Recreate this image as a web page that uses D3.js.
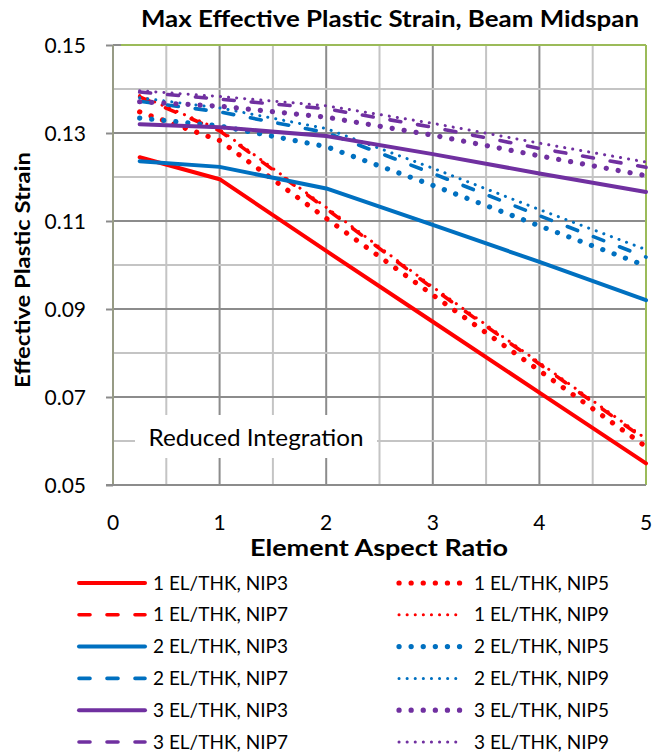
<!DOCTYPE html>
<html><head><meta charset="utf-8">
<script src="https://cdn.jsdelivr.net/npm/d3@7"></script>
<style>
html,body{margin:0;padding:0;background:#fff;}
svg text{font-family:Lato,"Open Sans",sans-serif;fill:#000;}
</style></head>
<body>
<svg id="chart" width="652" height="753"></svg>
<script>
// ---- data ----
const aspectRatios = [0.25, 1, 2, 3, 4, 5];
const el1_nip3 = [0.1245, 0.1195, 0.1032, 0.0871, 0.0710, 0.0549];
const el1_nip5 = [0.1348, 0.1283, 0.1106, 0.0932, 0.0760, 0.0587];
const el1_nip7 = [0.1382, 0.1305, 0.1128, 0.0947, 0.0775, 0.0602];
const el1_nip9 = [0.1385, 0.1308, 0.1131, 0.0950, 0.0778, 0.0605];
const el2_nip3 = [0.1236, 0.1223, 0.1174, 0.1091, 0.1007, 0.0920];
const el2_nip5 = [0.1334, 0.1316, 0.1269, 0.1181, 0.1089, 0.0998];
const el2_nip7 = [0.1372, 0.1348, 0.1301, 0.1208, 0.1112, 0.1018];
const el2_nip9 = [0.1380, 0.1357, 0.1310, 0.1220, 0.1126, 0.1035];
const el3_nip3 = [0.1320, 0.1313, 0.1293, 0.1252, 0.1208, 0.1166];
const el3_nip5 = [0.1371, 0.1361, 0.1336, 0.1295, 0.1248, 0.1203];
const el3_nip7 = [0.1393, 0.1377, 0.1355, 0.1313, 0.1265, 0.1222];
const el3_nip9 = [0.1396, 0.1383, 0.1362, 0.1322, 0.1277, 0.1234];
const seriesNames = ["1 EL/THK, NIP3","1 EL/THK, NIP5","1 EL/THK, NIP7","1 EL/THK, NIP9",
                     "2 EL/THK, NIP3","2 EL/THK, NIP5","2 EL/THK, NIP7","2 EL/THK, NIP9",
                     "3 EL/THK, NIP3","3 EL/THK, NIP5","3 EL/THK, NIP7","3 EL/THK, NIP9"];
const seriesValues = [el1_nip3, el1_nip5, el1_nip7, el1_nip9,
                      el2_nip3, el2_nip5, el2_nip7, el2_nip9,
                      el3_nip3, el3_nip5, el3_nip7, el3_nip9];
const xTicks = [0, 1, 2, 3, 4, 5];
const yTicks = [0.05, 0.07, 0.09, 0.11, 0.13, 0.15];
const titleText = "Max Effective Plastic Strain, Beam Midspan";
const xTitle = "Element Aspect Ratio";
const yTitle = "Effective Plastic Strain";
const noteText = "Reduced Integration";

// ---- styles ----
const groupColors = ["#FF0000", "#0070C0", "#7030A0"];
const nipStyles = {
  NIP3: {w: 4, dash: null, cap: "round"},
  NIP5: {w: 5.2, dash: "0.1,12", cap: "round"},
  NIP7: {w: 3.6, dash: "11,17", cap: "round"},
  NIP9: {w: 3, dash: "0.1,8", cap: "round"}
};

const svg = d3.select("#chart");
const L = 113, R = 646, T = 45, B = 485;
const x = d3.scaleLinear().domain([0, 5]).range([L, R]);
const y = d3.scaleLinear().domain([0.05, 0.15]).range([B, T]);

// gridlines
const g = svg.append("g");
const vGrid = d3.range(0, 5.01, 0.5);
g.selectAll("line.vg").data(vGrid).enter().append("line")
  .attr("x1", d => x(d)).attr("x2", d => x(d)).attr("y1", T).attr("y2", B)
  .attr("stroke", d => Math.abs(d - Math.round(d)) < 1e-6 ? "#8c8c8c" : "#c4c4c4")
  .attr("stroke-width", 2);
const hGrid = d3.range(0, 11).map(i => 0.05 + i * 0.01);
g.selectAll("line.hg").data(hGrid).enter().append("line")
  .attr("x1", L).attr("x2", R).attr("y1", d => y(d)).attr("y2", d => y(d))
  .attr("stroke", (d, i) => i % 2 === 0 ? "#8c8c8c" : "#c4c4c4")
  .attr("stroke-width", 2);

// border (top/right green)
g.append("line").attr("x1", L + 8).attr("x2", R).attr("y1", T).attr("y2", T).attr("stroke", "#9BBB59").attr("stroke-width", 2);
g.append("line").attr("x1", R).attr("x2", R).attr("y1", T).attr("y2", B).attr("stroke", "#9BBB59").attr("stroke-width", 2);

// axes
const yAxis = d3.axisLeft(y).tickValues(yTicks).tickSize(7).tickPadding(20).tickFormat(d3.format(".2f"));
const ya = svg.append("g").attr("transform", `translate(${L},0)`).call(yAxis);
ya.select(".domain").remove();
ya.selectAll(".tick line").attr("stroke", "#8c8c8c").attr("stroke-width", 2);
ya.selectAll(".tick text").attr("font-size", 21).attr("font-family", "Lato").attr("dy", "0.35em");
svg.append("line").attr("x1", L).attr("x2", L).attr("y1", T).attr("y2", B + 1).attr("stroke", "#979b85").attr("stroke-width", 2);
svg.append("line").attr("x1", L - 7).attr("x2", R).attr("y1", B).attr("y2", B).attr("stroke", "#8c8c8c").attr("stroke-width", 2);

svg.append("g").selectAll("text").data(xTicks).enter().append("text")
  .attr("x", d => x(d)).attr("y", 530).attr("text-anchor", "middle")
  .attr("font-size", 21).text(d => d);

// note box
svg.append("rect").attr("x", 135).attr("y", 415).attr("width", 242).attr("height", 43).attr("fill", "#fff");
svg.append("text").attr("x", 256).attr("y", 446).attr("text-anchor", "middle").attr("font-size", 23)
  .attr("textLength", 215).attr("lengthAdjust", "spacingAndGlyphs").text(noteText);

// lines
const line = d3.line().x((d, i) => x(aspectRatios[i])).y(d => y(d));
const nipKeys = ["NIP3", "NIP5", "NIP7", "NIP9"];
const lg = svg.append("g");
seriesValues.forEach((vals, si) => {
  const st = nipStyles[nipKeys[si % 4]];
  lg.append("path").datum(vals).attr("d", line)
    .attr("fill", "none").attr("stroke", groupColors[Math.floor(si / 4)])
    .attr("stroke-width", st.w).attr("stroke-linecap", st.cap).attr("stroke-linejoin", "round")
    .attr("stroke-dasharray", st.dash);
});

// titles
svg.append("text").attr("x", 390).attr("y", 27).attr("text-anchor", "middle")
  .attr("font-size", 22).attr("font-weight", "bold").attr("font-family", "Open Sans")
  .attr("textLength", 498).attr("lengthAdjust", "spacingAndGlyphs").text(titleText);
svg.append("text").attr("x", 379).attr("y", 556).attr("text-anchor", "middle")
  .attr("font-size", 22).attr("font-weight", "bold").attr("font-family", "Open Sans")
  .attr("textLength", 258).attr("lengthAdjust", "spacingAndGlyphs").text(xTitle);
svg.append("text").attr("transform", "translate(30,270) rotate(-90)").attr("text-anchor", "middle")
  .attr("font-size", 21).attr("font-weight", "bold").attr("font-family", "Open Sans")
  .attr("textLength", 236).attr("lengthAdjust", "spacingAndGlyphs").text(yTitle);

// legend
const legRowY = d3.range(6).map(i => 583 + i * 31.8);
const legend = svg.append("g");
seriesNames.forEach((name, si) => {
  const col = si % 2, row = Math.floor(si / 2);
  const st = nipStyles[nipKeys[si % 4]];
  const x0 = col === 0 ? 79 : 399, x1 = col === 0 ? 145 : 462;
  const yy = legRowY[row];
  legend.append("line").attr("x1", x0).attr("x2", x1).attr("y1", yy).attr("y2", yy)
    .attr("stroke", groupColors[Math.floor(si / 4)]).attr("stroke-width", st.w)
    .attr("stroke-linecap", st.cap).attr("stroke-dasharray", st.dash);
  legend.append("text").attr("x", col === 0 ? 153 : 474).attr("y", yy).attr("dy", "0.35em")
    .attr("font-size", 19).text(name);
});
</script>
</body></html>
